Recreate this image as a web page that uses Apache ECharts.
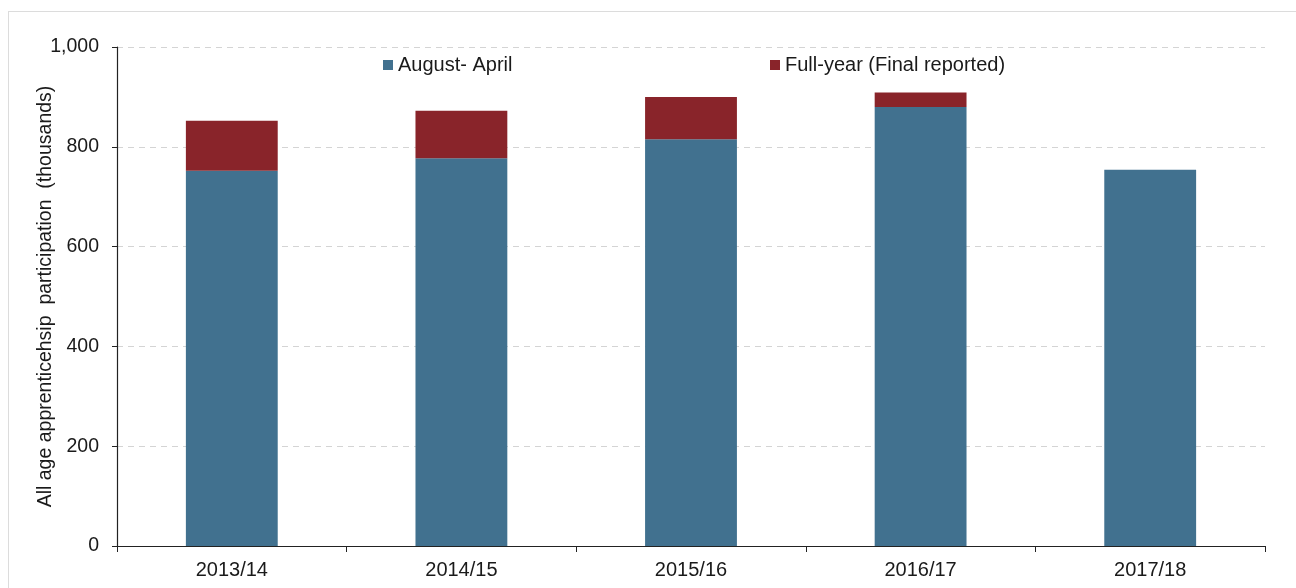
<!DOCTYPE html>
<html lang="en">
  <head>
    <meta charset="UTF-8" />
    <title>Apprenticeship participation</title>
    <script src="https://cdn.jsdelivr.net/npm/echarts@6.0.0/dist/echarts.min.js"></script>
    <style>
      html, body { margin: 0; padding: 0; background: #fff; }
      #frame {
        position: absolute; left: 8px; top: 11px; width: 1300px; height: 590px;
        border-left: 1px solid #dcdcdc; border-top: 1px solid #dcdcdc;
        pointer-events: none;
      }
    </style>
  </head>
  <body>
    <div id="main" style="width: 1296px; height: 588px"></div>
    <div id="frame"></div>
  </body>
  <script type="text/javascript">
    const years = ["2013/14", "2014/15", "2015/16", "2016/17", "2017/18"];
    const augApril = [752, 777, 815, 880, 754];
    // extra on top of Aug-Apr to reach the final full-year figure
    const fullYearExtra = [100, 95, 85, 29, 0];
    const yTicks = [0, 200, 400, 600, 800, 1000];

    const blue = "#41718f";
    const red = "#89242a";
    const txt = { fontFamily: "Liberation Sans, Arial, sans-serif", color: "#1a1a1a" };

    var myChart = echarts.init(document.getElementById("main"));
    var option = {
      animation: false,
      grid: { left: 117, right: 31, top: 47, bottom: 42 },
      legend: [
        {
          data: ["August- April"],
          icon: "rect",
          left: 383, top: 55, padding: 0,
          itemWidth: 10, itemHeight: 10, itemGap: 4,
          textStyle: Object.assign({ fontSize: 20 }, txt),
        },
        {
          data: ["Full-year (Final reported)"],
          icon: "rect",
          left: 770, top: 55, padding: 0,
          itemWidth: 10, itemHeight: 10, itemGap: 4,
          textStyle: Object.assign({ fontSize: 20 }, txt),
        },
      ],
      xAxis: {
        type: "category",
        data: years,
        axisLine: { lineStyle: { color: "#222", width: 1.2 } },
        axisTick: { show: true, inside: false, length: 6, lineStyle: { color: "#222" } },
        axisLabel: Object.assign({ fontSize: 20, margin: 14 }, txt),
        splitLine: { show: false },
      },
      yAxis: {
        type: "value",
        min: yTicks[0],
        max: yTicks[yTicks.length - 1],
        interval: 200,
        name: "All age apprenticehsip  participation  (thousands)",
        nameLocation: "middle",
        nameGap: 61,
        nameMoveOverlap: false,
        nameTextStyle: Object.assign({ fontSize: 19.5 }, txt),
        axisLine: { show: true, lineStyle: { color: "#222", width: 1.2 } },
        axisTick: { show: true, length: 5, lineStyle: { color: "#222" } },
        axisLabel: Object.assign({
          fontSize: 19.5, margin: 18,
          formatter: (v) => v.toLocaleString("en-GB"),
        }, txt),
        splitLine: { show: true, lineStyle: { color: "#d4d4d4", type: [6, 5] } },
      },
      series: [
        {
          name: "August- April",
          type: "bar",
          stack: "total",
          barWidth: "40%",
          itemStyle: { color: blue },
          data: augApril,
        },
        {
          name: "Full-year (Final reported)",
          type: "bar",
          stack: "total",
          barWidth: "40%",
          itemStyle: { color: red },
          data: fullYearExtra,
        },
      ],
    };
    option && myChart.setOption(option);
  </script>
</html>
